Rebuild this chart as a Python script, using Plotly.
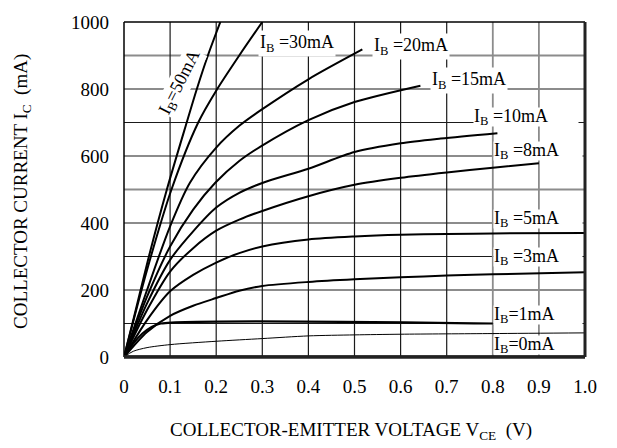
import plotly.graph_objects as go

# ---- data ----
ib50_v = [0, 0.02, 0.054, 0.093, 0.136, 0.158, 0.182, 0.209]
ib50_i = [0, 110, 300, 500, 700, 800, 900, 1000]

ib30_v = [0, 0.05, 0.103, 0.161, 0.2, 0.25, 0.3]
ib30_i = [0, 260, 500, 700, 795, 900, 1000]

ib20_v = [0, 0.05, 0.1, 0.143, 0.2, 0.25, 0.296, 0.4, 0.517]
ib20_i = [0, 200, 390, 520, 625, 690, 736, 829, 918]

ib15_v = [0, 0.05, 0.1, 0.15, 0.198, 0.25, 0.296, 0.4, 0.5, 0.643]
ib15_i = [0, 180, 330, 440, 520, 585, 628, 707, 761, 810]

ib10_v = [0, 0.05, 0.1, 0.15, 0.2, 0.25, 0.303, 0.4, 0.5, 0.6, 0.687, 0.81]
ib10_i = [0, 160, 290, 375, 446, 490, 521, 562, 612, 638, 652, 668]

ib8_v = [0, 0.05, 0.1, 0.15, 0.2, 0.25, 0.3, 0.4, 0.5, 0.6, 0.7, 0.8, 0.9]
ib8_i = [0, 140, 255, 325, 377, 410, 436, 480, 514, 535, 551, 565, 578]

ib5_v = [0, 0.05, 0.1, 0.15, 0.2, 0.25, 0.3, 0.4, 0.5, 0.6, 0.7, 0.8, 1.0]
ib5_i = [0, 110, 196, 245, 282, 310, 330, 351, 360, 365, 367, 369, 370]

ib3_v = [0, 0.05, 0.1, 0.15, 0.2, 0.25, 0.3, 0.4, 0.5, 0.6, 0.7, 0.8, 1.0]
ib3_i = [0, 75, 123, 153, 176, 198, 212, 224, 232, 238, 243, 247, 253]

ib1_v = [0, 0.02, 0.04, 0.06, 0.08, 0.8]
ib1_i = [0, 40, 70, 90, 100, 100]

thin_v = [0, 0.02, 0.05, 0.1, 0.2, 0.3, 0.4, 0.5, 0.6, 0.8, 1.0]
thin_i = [0, 17, 28, 37, 47, 55, 63, 66, 68, 70, 72]

ib0_v = [0, 1.0]
ib0_i = [0, 0]

x_ticks = [0, 0.1, 0.2, 0.3, 0.4, 0.5, 0.6, 0.7, 0.8, 0.9, 1.0]
x_ticktext = ["0", "0.1", "0.2", "0.3", "0.4", "0.5", "0.6", "0.7", "0.8", "0.9", "1.0"]
y_ticks = [0, 200, 400, 600, 800, 1000]
y_ticktext = ["0", "200", "400", "600", "800", "1000"]

# gridlines (100 mA / 0.1 V), dark or light as in the reference
h_grid = [100, 200, 300, 400, 500, 600, 700, 800, 900]
h_dark = [True, False, True, True, False, False, True, True, False]
v_grid = [0.1, 0.2, 0.3, 0.4, 0.5, 0.6, 0.7, 0.8, 0.9]
v_dark = [True, True, True, True, True, True, True, False, False]

FONT = "Liberation Serif"
fig = go.Figure()

curves = [
    (ib50_v, ib50_i, 2.0), (ib30_v, ib30_i, 2.0), (ib20_v, ib20_i, 2.0),
    (ib15_v, ib15_i, 2.0), (ib10_v, ib10_i, 2.0), (ib8_v, ib8_i, 2.0),
    (ib5_v, ib5_i, 2.0), (ib3_v, ib3_i, 2.0), (ib1_v, ib1_i, 2.2),
    (thin_v, thin_i, 1.0), (ib0_v, ib0_i, 3.0),
]
for xs, ys, w in curves:
    fig.add_trace(go.Scatter(x=xs, y=ys, mode="lines",
                             line=dict(color="black", width=w, shape="spline", smoothing=0.8),
                             hoverinfo="skip", showlegend=False))

shapes = []
for y, d in zip(h_grid, h_dark):
    shapes.append(dict(type="line", xref="x", yref="y", x0=0, x1=1, y0=y, y1=y, layer="below",
                       line=dict(color="#1a1a1a" if d else "#8c8c8c", width=1.2 if d else 1.8)))
for x, d in zip(v_grid, v_dark):
    shapes.append(dict(type="line", xref="x", yref="y", x0=x, x1=x, y0=0, y1=1000, layer="below",
                       line=dict(color="#1a1a1a" if d else "#8c8c8c", width=1.2 if d else 1.8)))
# frame
shapes += [
    dict(type="line", xref="paper", yref="paper", x0=0, x1=1, y0=1, y1=1, line=dict(color="black", width=1.5)),
    dict(type="line", xref="paper", yref="paper", x0=0, x1=0, y0=0, y1=1, line=dict(color="black", width=1.5)),
    dict(type="line", xref="paper", yref="paper", x0=0, x1=1, y0=0, y1=0, line=dict(color="#222", width=3.5)),
    dict(type="line", xref="paper", yref="paper", x0=1, x1=1, y0=0, y1=1, line=dict(color="#222", width=3)),
]

lab_font = dict(family=FONT, size=18, color="black")
annotations = []
right_labels = [
    ("I<sub>B</sub> =10mA", 0.757, 717, 104),
    ("I<sub>B</sub> =8mA", 0.8, 615, 88),
    ("I<sub>B</sub> =5mA", 0.8, 412, 88),
    ("I<sub>B</sub> =3mA", 0.8, 300, 88),
    ("I<sub>B</sub>=1mA", 0.8, 124, 88),
    ("I<sub>B</sub>=0mA", 0.8, 35, 88),
]
for t, x, y, w in right_labels:
    annotations.append(dict(text=t, x=x, y=y, xref="x", yref="y", xanchor="left", yanchor="middle",
                            showarrow=False, font=lab_font, bgcolor="white", width=w, height=18,
                            align="left", borderpad=0))
top_labels = [
    ("I<sub>B</sub> =30mA", 0.29, 935),
    ("I<sub>B</sub> =20mA", 0.539, 926),
    ("I<sub>B</sub> =15mA", 0.663, 826),
]
for t, x, y in top_labels:
    annotations.append(dict(text=t, x=x, y=y, xref="x", yref="y", xanchor="left", yanchor="middle",
                            showarrow=False, font=lab_font, bgcolor="white", borderpad=1))
annotations.append(dict(text="I<sub>B</sub>=50mA", x=0.123, y=818, xref="x", yref="y",
                        xanchor="center", yanchor="middle", showarrow=False, textangle=-63,
                        font=lab_font, bgcolor="white", borderpad=0))
annotations.append(dict(text="COLLECTOR-EMITTER VOLTAGE V<sub>CE</sub>\u00a0\u00a0(V)", x=0.492, y=-0.221,
                        xref="paper", yref="paper", xanchor="center", yanchor="middle", showarrow=False,
                        font=dict(family=FONT, size=19, color="black")))
annotations.append(dict(text="COLLECTOR CURRENT I<sub>C</sub>\u00a0\u00a0(mA)", x=-0.221, y=0.493,
                        xref="paper", yref="paper", xanchor="center", yanchor="middle", showarrow=False,
                        textangle=-90, font=dict(family=FONT, size=19, color="black")))

fig.update_layout(
    width=617, height=448,
    margin=dict(l=124, r=32, t=18, b=91),
    paper_bgcolor="white", plot_bgcolor="white",
    shapes=shapes, annotations=annotations,
    xaxis=dict(range=[0, 1], tickvals=x_ticks, ticktext=x_ticktext, showgrid=False, zeroline=False,
               showline=False, ticks="", ticklabelstandoff=16,
               tickfont=dict(family=FONT, size=19, color="black"), fixedrange=True),
    yaxis=dict(range=[0, 1000], tickvals=y_ticks, ticktext=y_ticktext, showgrid=False, zeroline=False,
               showline=False, ticks="", ticklabelstandoff=14,
               tickfont=dict(family=FONT, size=19, color="black"), fixedrange=True),
)
fig.write_html("out.html")
